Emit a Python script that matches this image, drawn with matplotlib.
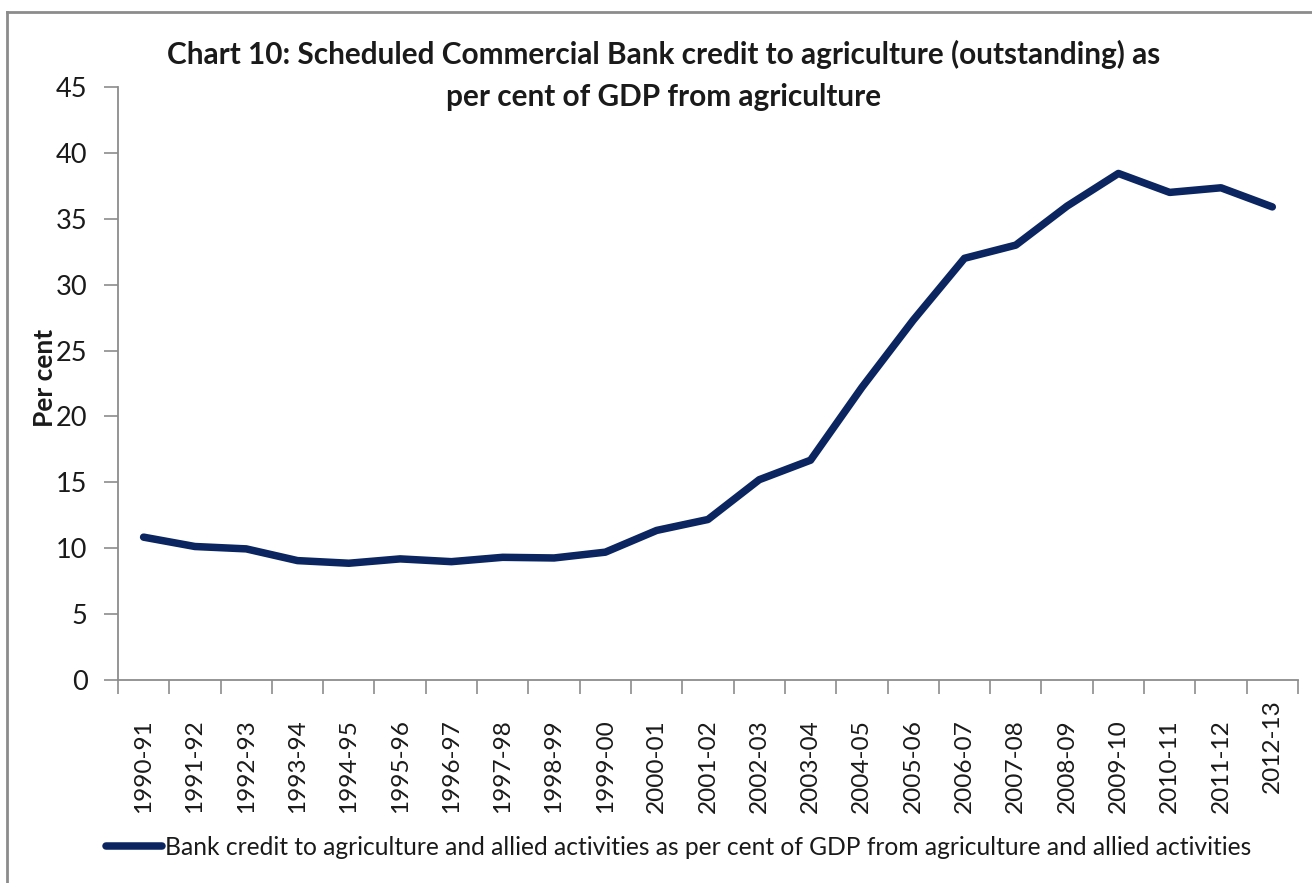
import matplotlib
matplotlib.use("Agg")
import matplotlib.pyplot as plt
from matplotlib.lines import Line2D
from matplotlib.transforms import ScaledTranslation

# ---- data ----
years = ["1990-91", "1991-92", "1992-93", "1993-94", "1994-95", "1995-96",
         "1996-97", "1997-98", "1998-99", "1999-00", "2000-01", "2001-02",
         "2002-03", "2003-04", "2004-05", "2005-06", "2006-07", "2007-08",
         "2008-09", "2009-10", "2010-11", "2011-12", "2012-13"]
credit_pct = [10.84, 10.13, 9.95, 9.06, 8.86, 9.19, 8.98, 9.31, 9.26, 9.70,
              11.35, 12.18, 15.2, 16.68, 22.2, 27.3, 32.0, 33.0, 35.96,
              38.44, 37.0, 37.35, 35.9]
y_ticks = [0, 5, 10, 15, 20, 25, 30, 35, 40, 45]

title = ("Chart 10: Scheduled Commercial Bank credit to agriculture (outstanding) as\n"
         "per cent of GDP from agriculture")
series_label = ("Bank credit to agriculture and allied activities as per cent of GDP "
                "from agriculture and allied activities")

LINE_COLOR = "#0b2561"
AXIS_GREY = "#8c8c8c"
TEXT = "#1a1a1a"

plt.rcParams["font.family"] = ["Lato", "DejaVu Sans"]

fig = plt.figure(figsize=(13.12, 8.83), dpi=100)
ax = fig.add_axes([0.0899, 0.2299, 0.9893 - 0.0899, 0.9015 - 0.2299])

x = list(range(len(years)))
ax.plot(x, credit_pct, color=LINE_COLOR, linewidth=5.4,
        solid_capstyle="round", solid_joinstyle="round", label=series_label)

ax.set_xlim(-0.5, len(years) - 0.5)
ax.set_ylim(0, 45)
ax.set_yticks(y_ticks)
ax.set_yticklabels([str(v) for v in y_ticks], fontsize=19.5, color=TEXT)

# category labels centred, tick marks on boundaries
ax.set_xticks(x)
ax.set_xticklabels(years, rotation=90, fontsize=17.6, color=TEXT)
ax.tick_params(axis="x", which="major", length=0, pad=28)
ax.set_xticks([i - 0.5 for i in range(len(years) + 1)], minor=True)
ax.tick_params(axis="x", which="minor", length=10, width=1.2, color=AXIS_GREY,
               direction="out")
ax.tick_params(axis="y", length=10, width=1.2, color=AXIS_GREY, pad=12)

# the last category label sits a little higher in the original
last = ax.get_xticklabels()[-1]
last.set_transform(last.get_transform() + ScaledTranslation(0, 14 / 72, fig.dpi_scale_trans))

for side in ("top", "right"):
    ax.spines[side].set_visible(False)
for side in ("left", "bottom"):
    ax.spines[side].set_color(AXIS_GREY)
    ax.spines[side].set_linewidth(1.3)

ax.set_ylabel("Per cent", fontsize=19, fontweight="bold", color=TEXT)
ax.yaxis.set_label_coords(-0.0515, 0.51)

fig.text(0.506, 0.955, title, ha="center", va="top", fontsize=21.4,
         fontweight="bold", color=TEXT, linespacing=1.62)

ax.legend(loc="center", bbox_to_anchor=(0.475, -0.282), frameon=False,
          fontsize=17.75, handlelength=2.3, handletextpad=0.1,
          labelcolor=TEXT)

# outer chart border (only left and top are visible in the original)
fig.add_artist(Line2D([0.0055, 0.0055], [0.0, 0.986], transform=fig.transFigure,
                      color=AXIS_GREY, linewidth=2))
fig.add_artist(Line2D([0.0055, 1.0], [0.986, 0.986], transform=fig.transFigure,
                      color=AXIS_GREY, linewidth=2))

fig.savefig("out.png", dpi=100)
plt.close(fig)
